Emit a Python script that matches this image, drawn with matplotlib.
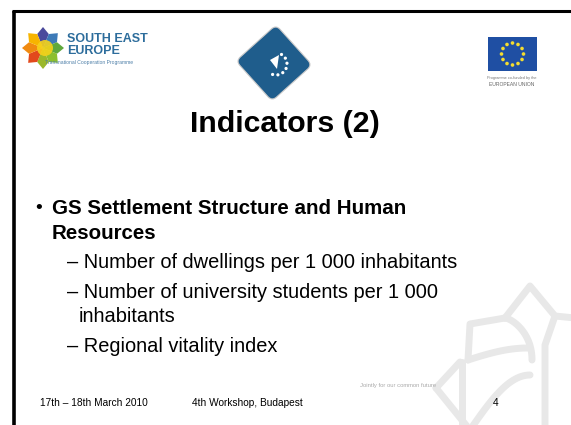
import matplotlib.pyplot as plt
from matplotlib.patches import Polygon, Rectangle, FancyBboxPatch, Circle
import matplotlib.transforms as mtransforms
import numpy as np

plt.rcParams['font.family'] = ['Liberation Sans', 'DejaVu Sans']

# slide content
title = "Indicators (2)"
bullet_lines = ["GS Settlement Structure and Human", "Resources"]
sub_items = [["Number of dwellings per 1 000 inhabitants"],
             ["Number of university students per 1 000", "inhabitants"],
             ["Regional vitality index"]]
footer_date = "17th \u2013 18th March 2010"
footer_event = "4th Workshop, Budapest"
page_number = "4"
motto = "Jointly for our common future"
see_text = ["SOUTH EAST", "EUROPE"]
see_sub = "Transnational Cooperation Programme"
eu_text = ["Programme co-funded by the", "EUROPEAN UNION"]

W, H = 571, 425
fig = plt.figure(figsize=(W / 100, H / 100), dpi=100)
ax = fig.add_axes([0, 0, 1, 1])
ax.set_xlim(0, W)
ax.set_ylim(H, 0)
ax.axis('off')

# watermark flower (light grey outlines, bottom right)
wm = dict(color='#e8e8e8', lw=5, solid_capstyle='round', solid_joinstyle='round', zorder=0)
t = np.linspace(0, 1, 30)
ax.plot([505, 530, 555, 575], [318, 286, 316, 318], **wm)
ax.plot([505, 470, 468], [318, 324, 360], **wm)
ax.plot(505 + 27 * np.sin(t * np.pi / 2), 318 + 42 * t ** 1.5, **wm)
ax.plot(468 + 60 * t, 360 - 12 * np.sin(t * np.pi / 2), **wm)
ax.plot([436, 460], [388, 362], **wm)
ax.plot([436, 470], [388, 430], **wm)
ax.plot(470 + 60 * t, 430 - 55 * np.sin(t * np.pi / 2), **wm)
ax.plot([555, 545, 545], [316, 345, 430], **wm)
ax.plot([462, 462], [362, 430], **wm)

# slide frame
ax.plot([13.5, 13.5], [H, 11], color='black', lw=2.6, solid_capstyle='butt', zorder=5)
ax.plot([12.2, W], [11, 11], color='black', lw=2.2, solid_capstyle='butt', zorder=5)

# South East Europe logo: 8 point star
cx, cy, r = 43, 48, 21
cols = ['#4b4a9c', '#3d7ab8', '#5fa83c', '#8cbf2e', '#9bb82a', '#e2491c', '#f08a10', '#f7b400']
for i in range(8):
    a = np.deg2rad(-90 + 45 * i)
    a1, a2 = a - np.deg2rad(22.5), a + np.deg2rad(22.5)
    pts = [(cx, cy), (cx + 0.72 * r * np.cos(a1), cy + 0.72 * r * np.sin(a1)),
           (cx + r * np.cos(a), cy + r * np.sin(a)),
           (cx + 0.72 * r * np.cos(a2), cy + 0.72 * r * np.sin(a2))]
    ax.add_patch(Polygon(pts, closed=True, color=cols[i], lw=0, zorder=2))
ax.add_patch(Circle((cx + 2, cy), 8, color='#f5d21a', lw=0, zorder=3, alpha=0.9))
ax.text(67, 39, see_text[0], fontsize=9, fontweight='bold', color='#2d6d9c', va='center', ha='left')
ax.text(67, 51, see_text[1], fontsize=9, fontweight='bold', color='#2d6d9c', va='center', ha='left')
ax.text(45, 62.5, see_sub, fontsize=3.6, color='#4d7fa8', va='center', ha='left')

# center diamond logo
dc = FancyBboxPatch((-27, -27), 54, 54, boxstyle='round,pad=0,rounding_size=6',
                    fc='#1f5d8c', ec='#c8c8c8', lw=0.8, zorder=2)
dc.set_transform(mtransforms.Affine2D().rotate_deg(-42).translate(274, 63) + ax.transData)
ax.add_patch(dc)
ax.add_patch(Polygon([(270, 60), (279, 55), (277, 69)], closed=True, color='white', lw=0, zorder=3))
for k in range(7):
    a = np.deg2rad(-60 + 28 * k)
    ax.add_patch(Circle((276 + 11 * np.cos(a), 64 + 11 * np.sin(a)), 0.9, color='white', zorder=3))

# EU flag
ax.add_patch(Rectangle((488, 37), 49, 34, color='#1f4fa3', lw=0, zorder=2))
for k in range(12):
    a = np.deg2rad(30 * k)
    ax.add_patch(Circle((512.5 + 11 * np.cos(a), 54 + 11 * np.sin(a)), 1.1, color='#f3dc30', zorder=3))
ax.text(512, 78, eu_text[0], fontsize=2.8, color='#777777', ha='center', va='center')
ax.text(512, 84, eu_text[1], fontsize=3.6, color='#666666', ha='center', va='center')

# title
ax.text(285, 124, title, fontsize=21.8, fontweight='bold', color='black', ha='center', va='center')

# bullet block
ax.text(35, 208, "\u2022", fontsize=14, color='black', ha='left', va='center')
for i, line in enumerate(bullet_lines):
    ax.text(52, 208 + 25 * i, line, fontsize=14.8, fontweight='bold', color='black', ha='left', va='center')
y = 262
for item in sub_items:
    for j, line in enumerate(item):
        if j == 0:
            ax.text(67, y, "\u2013 " + line, fontsize=14.4, color='black', ha='left', va='center')
        else:
            ax.text(79, y, line, fontsize=14.4, color='black', ha='left', va='center')
        y += 23
    y += 8

# footer
ax.text(40, 403, footer_date, fontsize=7.3, color='black', ha='left', va='center')
ax.text(192, 403, footer_event, fontsize=7.3, color='black', ha='left', va='center')
ax.text(493, 403, page_number, fontsize=7.3, color='black', ha='left', va='center')
ax.text(360, 385, motto, fontsize=4.2, color='#aaaaaa', ha='left', va='center')

fig.savefig('out.png', dpi=100, facecolor='white')
